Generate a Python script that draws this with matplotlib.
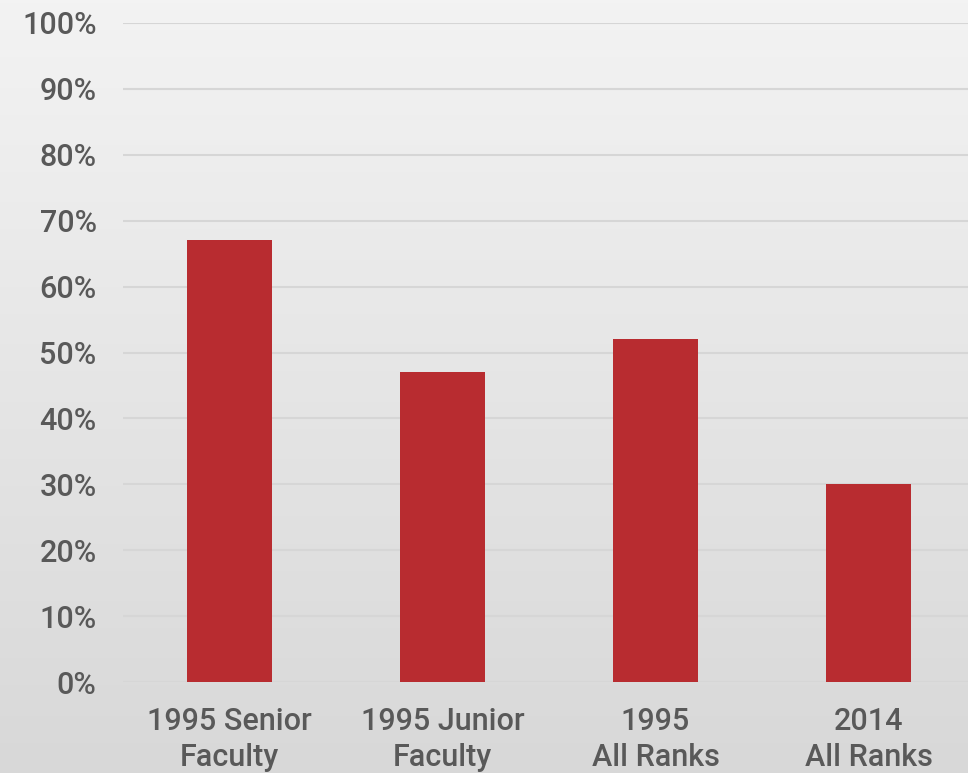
import numpy as np
import matplotlib
matplotlib.use("Agg")
import matplotlib.pyplot as plt
from matplotlib.colors import LinearSegmentedColormap
from matplotlib.ticker import MultipleLocator, FuncFormatter

categories = ["1995 Senior\nFaculty", "1995 Junior\nFaculty", "1995\nAll Ranks", "2014\nAll Ranks"]
values = [67, 47, 52, 30]

plt.rcParams["font.family"] = ["Roboto", "Liberation Sans", "DejaVu Sans"]
plt.rcParams["font.weight"] = "medium"

fig = plt.figure(figsize=(9.68, 7.73), dpi=100)

# vertical grey gradient behind everything
bg = fig.add_axes([0, 0, 1, 1], zorder=-10)
grad = np.linspace(0, 1, 256).reshape(-1, 1)
cmap = LinearSegmentedColormap.from_list("bg", ["#f3f3f3", "#d8d8d8"])
bg.imshow(grad, aspect="auto", cmap=cmap, extent=[0, 1, 0, 1], origin="upper")
bg.set_axis_off()

ax = fig.add_axes([123 / 968, 91 / 773, 852 / 968, 659 / 773])
ax.patch.set_alpha(0)
x = np.arange(len(categories))
ax.bar(x, values, width=0.4, color="#b82c30", zorder=3)

ax.set_xlim(-0.5, len(categories) - 0.5)
ax.set_ylim(0, 100)
ax.yaxis.set_major_locator(MultipleLocator(10))
ax.yaxis.set_major_formatter(FuncFormatter(lambda v, p: f"{v:.0f}%"))
ax.grid(axis="y", color="#d6d6d6", linewidth=1.5, zorder=0)
ax.set_axisbelow(True)
ax.set_xticks(x)
ax.set_xticklabels(categories, linespacing=1.3)
for s in ax.spines.values():
    s.set_visible(False)
ax.tick_params(axis="both", length=0, labelsize=22, labelcolor="#595959")
ax.tick_params(axis="y", pad=19)
ax.tick_params(axis="x", pad=18)

fig.savefig("out.png", dpi=100)
